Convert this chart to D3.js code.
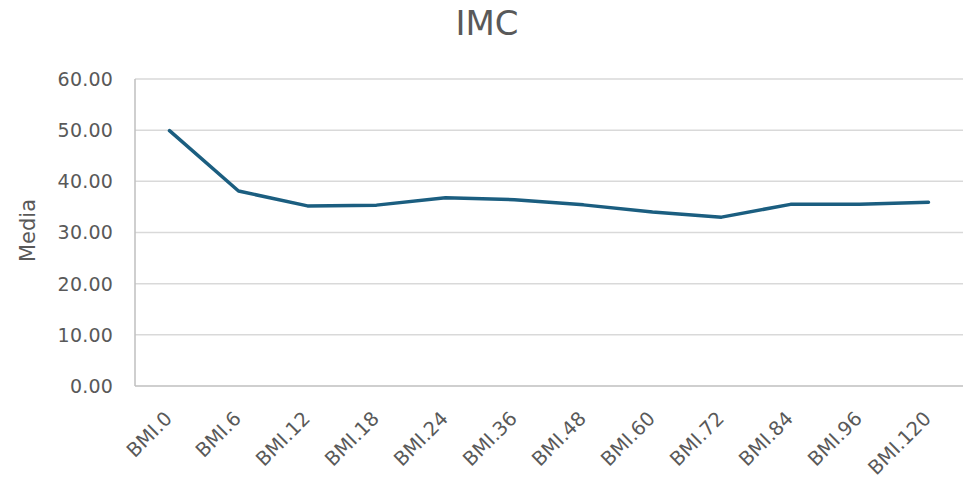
<!DOCTYPE html>
<html>
<head>
<meta charset="utf-8">
<script src="https://cdn.jsdelivr.net/npm/d3@7"></script>
<style>
  body { margin: 0; background: #fff; }
  text { font-family: "DejaVu Sans", sans-serif; fill: #595959; }
</style>
</head>
<body>
<div id="wrapper"></div>
<script>
// data
const categories = ["BMI.0", "BMI.6", "BMI.12", "BMI.18", "BMI.24", "BMI.36",
                    "BMI.48", "BMI.60", "BMI.72", "BMI.84", "BMI.96", "BMI.120"]
const mediaValues = [49.9, 38.1, 35.2, 35.35, 36.8, 36.4, 35.4, 34.0, 33.0, 35.5, 35.5, 35.9]
const yTicks = [0, 10, 20, 30, 40, 50, 60]

function drawChart() {
  let dimensions = {
    width: 963,
    height: 479,
    margin: { top: 79, right: 0, bottom: 93, left: 135 },
  }
  dimensions.boundedWidth = dimensions.width - dimensions.margin.left - dimensions.margin.right
  dimensions.boundedHeight = dimensions.height - dimensions.margin.top - dimensions.margin.bottom

  const svg = d3.select("#wrapper").append("svg")
      .attr("width", dimensions.width)
      .attr("height", dimensions.height)

  const bounds = svg.append("g")
      .attr("transform", `translate(${dimensions.margin.left},${dimensions.margin.top})`)

  // scales
  const xScale = d3.scaleBand()
      .domain(categories)
      .range([0, dimensions.boundedWidth])
  const yScale = d3.scaleLinear()
      .domain([0, 60])
      .range([dimensions.boundedHeight, 0])

  // gridlines
  bounds.append("g")
    .selectAll("line")
    .data(yTicks.filter(d => d > 0))
    .join("line")
      .attr("x1", 0)
      .attr("x2", dimensions.boundedWidth)
      .attr("y1", d => yScale(d))
      .attr("y2", d => yScale(d))
      .attr("stroke", "#d9d9d9")
      .attr("stroke-width", 1.5)

  // axis lines
  bounds.append("line")
      .attr("x1", 0).attr("x2", 0)
      .attr("y1", yScale(60)).attr("y2", yScale(0))
      .attr("stroke", "#bfbfbf").attr("stroke-width", 1.5)
  bounds.append("line")
      .attr("x1", 0).attr("x2", dimensions.boundedWidth)
      .attr("y1", yScale(0)).attr("y2", yScale(0))
      .attr("stroke", "#bfbfbf").attr("stroke-width", 1.5)

  // y tick labels
  bounds.append("g")
    .selectAll("text")
    .data(yTicks)
    .join("text")
      .attr("x", -22)
      .attr("y", d => yScale(d))
      .attr("dy", "0.36em")
      .attr("text-anchor", "end")
      .style("font-size", "19px")
      .style("letter-spacing", "0.2px")
      .text(d => d3.format(".2f")(d))

  // x tick labels
  bounds.append("g")
    .selectAll("text")
    .data(categories)
    .join("text")
      .attr("transform", d => `translate(${xScale(d) + xScale.bandwidth() / 2 - 1},${dimensions.boundedHeight + 29}) rotate(-45)`)
      .attr("text-anchor", "end")
      .attr("dy", "0.35em")
      .style("font-size", "19.5px")
      .text(d => d)

  // line
  const line = d3.line()
      .x((d, i) => xScale(categories[i]) + xScale.bandwidth() / 2)
      .y(d => yScale(d))

  bounds.append("path")
      .datum(mediaValues)
      .attr("d", line)
      .attr("fill", "none")
      .attr("stroke", "#1b5e80")
      .attr("stroke-width", 3.5)
      .attr("stroke-linejoin", "round")
      .attr("stroke-linecap", "round")

  // title
  svg.append("text")
      .attr("x", 487)
      .attr("y", 35)
      .attr("text-anchor", "middle")
      .style("font-size", "34px")
      .text("IMC")

  // y axis title
  svg.append("text")
      .attr("transform", `translate(35,${dimensions.margin.top + yScale(30) - 2}) rotate(-90)`)
      .attr("text-anchor", "middle")
      .style("font-size", "21px")
      .text("Media")
}

drawChart()
</script>
</body>
</html>
